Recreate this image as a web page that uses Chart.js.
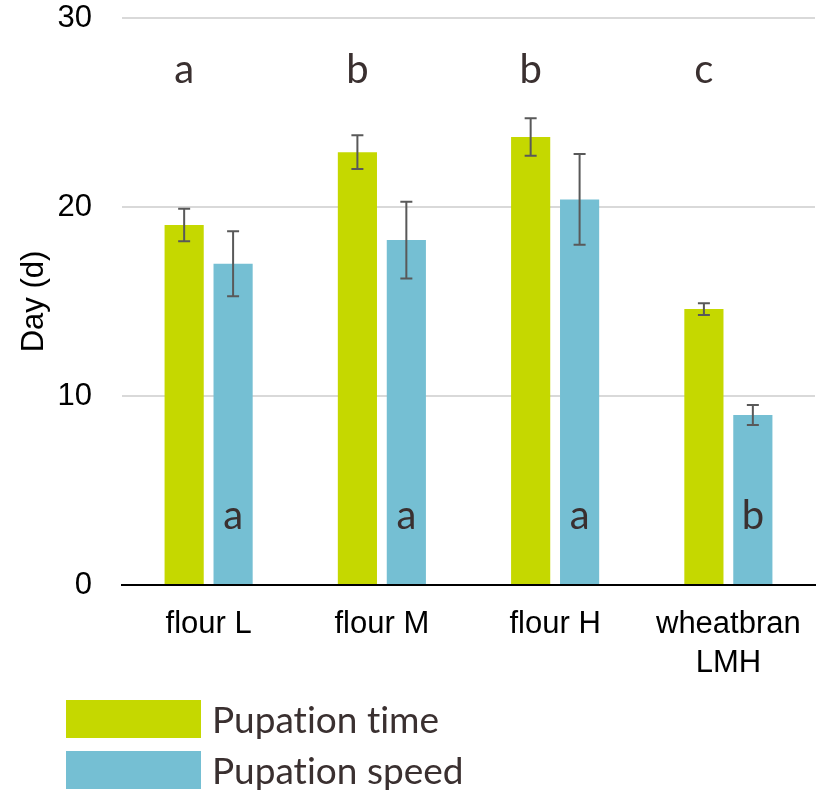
<!DOCTYPE html>
<html>
<head>
<meta charset="utf-8">
<script src="https://cdn.jsdelivr.net/npm/chart.js@4/dist/chart.umd.min.js"></script>
<style>
  html, body { margin: 0; padding: 0; background: #fff; }
  #wrap { width: 819px; height: 791px; }
</style>
</head>
<body>
<div id="wrap"><canvas id="c" width="819" height="791"></canvas></div>
<script>
// Categories and series
const categories = ['flour L', 'flour M', 'flour H', ['wheatbran', 'LMH']];
const pupationTime = [19.05, 22.9, 23.7, 14.6];
const pupationTimeErr = [0.86, 0.89, 0.99, 0.31];
const pupationSpeed = [17.0, 18.25, 20.4, 9.0];
const pupationSpeedErr = [1.72, 2.03, 2.4, 0.53];
// Significance letters
const timeLetters = ['a', 'b', 'b', 'c'];
const speedLetters = ['a', 'a', 'a', 'b'];
// Y axis ticks
const yTicks = [0, 10, 20, 30];

const GREEN = '#c5d800';
const BLUE = '#75bfd3';
const TEXT_DARK = '#3a3030';
const LETTER_FONT = '40px Lato, "DejaVu Sans", sans-serif';
const LEGEND_FONT = '37px Lato, "DejaVu Sans", sans-serif';
const AXIS_FAMILY = '"Liberation Sans", Arial, sans-serif';

// Error bars drawn on top of each bar
const errorBars = {
  id: 'errorBars',
  afterDatasetsDraw(chart) {
    const ctx = chart.ctx;
    const y = chart.scales.y;
    ctx.save();
    ctx.strokeStyle = '#595959';
    ctx.lineWidth = 2;
    chart.data.datasets.forEach((ds, di) => {
      const meta = chart.getDatasetMeta(di);
      meta.data.forEach((bar, i) => {
        const v = ds.data[i], e = ds.errors[i];
        const yt = y.getPixelForValue(v + e);
        const yb = y.getPixelForValue(v - e);
        const x = bar.x;
        ctx.beginPath();
        ctx.moveTo(x, yt); ctx.lineTo(x, yb);
        ctx.moveTo(x - 6, yt); ctx.lineTo(x + 6, yt);
        ctx.moveTo(x - 6, yb); ctx.lineTo(x + 6, yb);
        ctx.stroke();
      });
    });
    ctx.restore();
  }
};

// Letters marking significant differences
const letters = {
  id: 'letters',
  afterDatasetsDraw(chart) {
    const ctx = chart.ctx;
    const y = chart.scales.y;
    ctx.save();
    ctx.fillStyle = TEXT_DARK;
    ctx.font = LETTER_FONT;
    ctx.textAlign = 'center';
    ctx.textBaseline = 'alphabetic';
    chart.data.datasets.forEach((ds, di) => {
      const meta = chart.getDatasetMeta(di);
      const at = y.getPixelForValue(ds.letterLevel);
      meta.data.forEach((bar, i) => {
        ctx.fillText(ds.letters[i], bar.x, at);
      });
    });
    ctx.restore();
  }
};

// Stacked legend below the axis
const stackedLegend = {
  id: 'stackedLegend',
  afterDraw(chart) {
    const ctx = chart.ctx;
    const top0 = chart.scales.x.bottom + 17;
    ctx.save();
    ctx.font = LEGEND_FONT;
    ctx.letterSpacing = '0.01px';
    ctx.textAlign = 'left';
    ctx.textBaseline = 'alphabetic';
    chart.data.datasets.forEach((ds, i) => {
      const top = top0 + i * 51;
      ctx.fillStyle = ds.backgroundColor;
      ctx.fillRect(66, top, 135, 38);
      ctx.fillStyle = TEXT_DARK;
      ctx.fillText(ds.label, 212, top + 33);
    });
    ctx.restore();
  }
};

new Chart(document.getElementById('c'), {
  type: 'bar',
  data: {
    labels: categories,
    datasets: [
      { label: 'Pupation time', data: pupationTime, errors: pupationTimeErr,
        letters: timeLetters, letterLevel: 26.55,
        backgroundColor: GREEN, borderWidth: 0 },
      { label: 'Pupation speed', data: pupationSpeed, errors: pupationSpeedErr,
        letters: speedLetters, letterLevel: 2.98,
        backgroundColor: BLUE, borderWidth: 0 }
    ]
  },
  options: {
    responsive: false,
    animation: false,
    devicePixelRatio: 1,
    categoryPercentage: 0.565,
    barPercentage: 0.8,
    layout: { padding: { left: 12, top: 18, right: 4, bottom: 108 } },
    plugins: {
      legend: { display: false },
      tooltip: { enabled: false }
    },
    scales: {
      x: {
        grid: { display: false, drawTicks: false },
        border: { display: true, color: '#000', width: 2 },
        afterFit(scale) {
          scale.height = 98;
          scale.paddingLeft = 0; scale.paddingRight = 0;
        },
        ticks: {
          color: '#000',
          padding: 20,
          font: { family: AXIS_FAMILY, size: 31, lineHeight: 1.26 }
        }
      },
      y: {
        min: 0, max: 30,
        afterBuildTicks(scale) { scale.ticks = yTicks.map(v => ({ value: v })); },
        afterFit(scale) {
          scale.width = 110;
          scale.paddingTop = 0; scale.paddingBottom = 0;
        },
        grid: { color: '#d9d9d9', lineWidth: 2, drawTicks: false },
        border: { display: false },
        ticks: {
          color: '#000',
          padding: 30,
          font: { family: AXIS_FAMILY, size: 31 }
        },
        title: {
          display: true,
          text: 'Day (d)',
          color: '#000',
          padding: { top: 4, bottom: 4 },
          font: { family: AXIS_FAMILY, size: 31 }
        }
      }
    }
  },
  plugins: [errorBars, letters, stackedLegend]
});
</script>
</body>
</html>
